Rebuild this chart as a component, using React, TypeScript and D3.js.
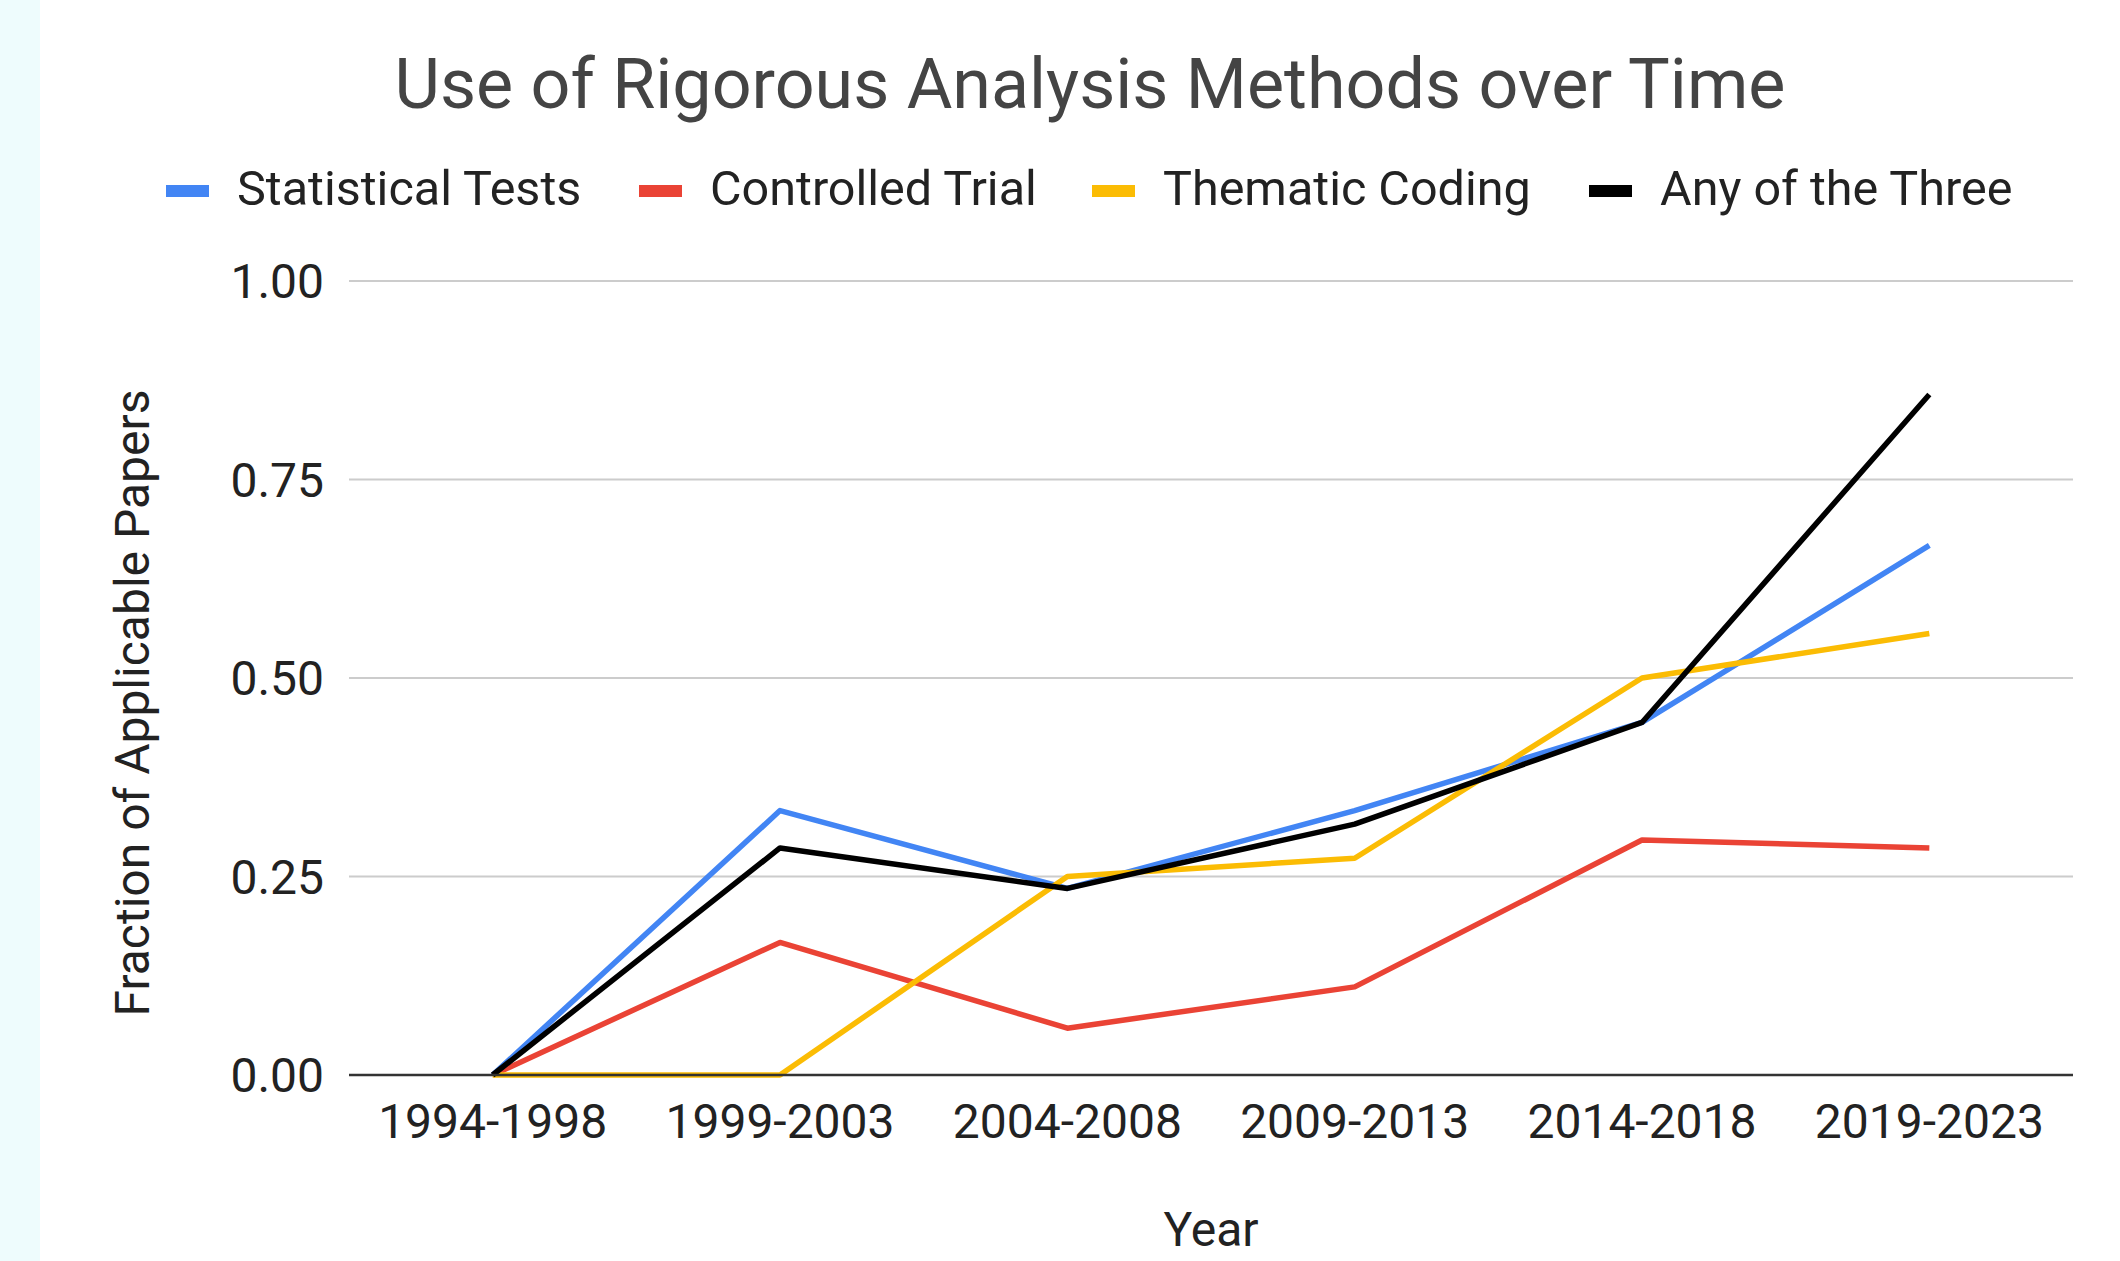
import React, { useMemo } from 'react';
import * as d3 from 'd3';

// periods on the x axis
const periods = ['1994-1998', '1999-2003', '2004-2008', '2009-2013', '2014-2018', '2019-2023'];

// fraction of applicable papers per period
const statisticalTests = [0, 0.333, 0.235, 0.333, 0.444, 0.667];
const controlledTrial = [0, 0.167, 0.059, 0.111, 0.296, 0.286];
const thematicCoding = [0, 0, 0.25, 0.273, 0.5, 0.556];
const anyOfThree = [0, 0.286, 0.235, 0.316, 0.444, 0.857];

const seriesNames = ['Statistical Tests', 'Controlled Trial', 'Thematic Coding', 'Any of the Three'];
const yTicks = [0, 0.25, 0.5, 0.75, 1];

const WIDTH = 2120;
const HEIGHT = 1261;
const FONT = 'Roboto, "Noto Sans", sans-serif';
const COLORS = ['#4285f4', '#ea4335', '#fbbc04', '#000000'];

// plot box
const LEFT = 349;
const RIGHT = 2073;
const TOP = 281;
const BOTTOM = 1075;

// legend swatch left edges
const LEGEND_X = [166, 639, 1092, 1589];

function App() {
  const series = [statisticalTests, controlledTrial, thematicCoding, anyOfThree];

  const xScale = useMemo(
    () => d3.scalePoint<string>().domain(periods).range([LEFT, RIGHT]).padding(0.5),
    []
  );
  const yScale = useMemo(() => d3.scaleLinear().domain([0, 1]).range([BOTTOM, TOP]), []);

  const line = d3
    .line<number>()
    .x((_, i) => xScale(periods[i]) as number)
    .y((d) => yScale(d));

  return (
    <div style={{ position: 'absolute', left: 0, top: 0 }}>
      <svg width={WIDTH} height={HEIGHT} viewBox={`0 0 ${WIDTH} ${HEIGHT}`} style={{ display: 'block' }}>
        <rect width={WIDTH} height={HEIGHT} fill="#fff" />
        <rect width={40} height={HEIGHT} fill="#eefcfd" />

        <text x={1090} y={108} textAnchor="middle" fontFamily={FONT} fontSize={70} fill="#444">
          Use of Rigorous Analysis Methods over Time
        </text>

        {/* legend */}
        <g fontFamily={FONT} fontSize={48.5} fill="#222">
          {seriesNames.map((name, i) => (
            <g key={name}>
              <rect x={LEGEND_X[i]} y={185} width={43} height={12} fill={COLORS[i]} />
              <text x={LEGEND_X[i] + 71} y={205}>
                {name}
              </text>
            </g>
          ))}
        </g>

        {/* grid + y ticks */}
        <g fontFamily={FONT} fontSize={48} fill="#222">
          {yTicks.map((t) => (
            <g key={t}>
              {t > 0 && (
                <line x1={LEFT} x2={RIGHT} y1={yScale(t)} y2={yScale(t)} stroke="#cccccc" strokeWidth={2} />
              )}
              <text x={324} y={yScale(t)} dy="0.36em" textAnchor="end">
                {t.toFixed(2)}
              </text>
            </g>
          ))}
        </g>

        {/* x tick labels */}
        <g fontFamily={FONT} fontSize={48} fill="#222">
          {periods.map((p) => (
            <text key={p} x={xScale(p)} y={1138} textAnchor="middle">
              {p}
            </text>
          ))}
        </g>

        {/* axis titles */}
        <text x={1211} y={1246} textAnchor="middle" fontFamily={FONT} fontSize={48} fill="#222">
          Year
        </text>
        <text
          transform={`translate(132, 703) rotate(-90)`}
          textAnchor="middle"
          dominantBaseline="central"
          fontFamily={FONT}
          fontSize={48}
          fill="#222"
        >
          Fraction of Applicable Papers
        </text>

        {/* series lines */}
        <g fill="none" strokeLinejoin="round" strokeLinecap="butt">
          {series.map((vals, i) => (
            <path key={seriesNames[i]} d={line(vals) || ''} stroke={COLORS[i]} strokeWidth={5.5} />
          ))}
        </g>

        {/* baseline */}
        <line x1={LEFT} x2={RIGHT} y1={BOTTOM} y2={BOTTOM} stroke="#333" strokeWidth={2.5} />
      </svg>
    </div>
  );
}

export default App;
